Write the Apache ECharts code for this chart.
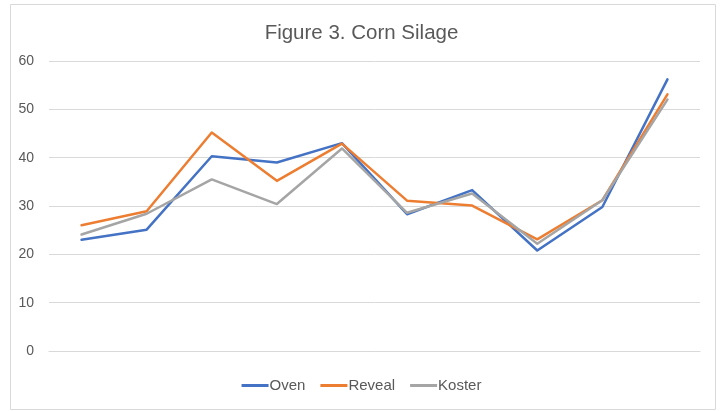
<!DOCTYPE html>
<html>
<head>
<meta charset="utf-8">
<script src="https://cdn.jsdelivr.net/npm/echarts@6/dist/echarts.min.js"></script>
<style>
  html, body { margin: 0; padding: 0; background: #fff; }
  #chart { width: 723px; height: 411px; }
</style>
</head>
<body>
<div id="chart"></div>
<script>
// samples along x (no labels in the original)
const categories = ['1', '2', '3', '4', '5', '6', '7', '8', '9', '10']
const oven = [23, 25.1, 40.3, 39, 43, 28.3, 33.3, 20.8, 29.8, 56.2]
const reveal = [26, 28.9, 45.2, 35.2, 42.9, 31.1, 30.1, 23.1, 31.2, 53.1]
const koster = [24.1, 28.4, 35.5, 30.4, 41.9, 28.6, 32.6, 22.2, 31.2, 52]

const font = '"Liberation Sans", Arial, sans-serif'
const colors = ['#4472C4', '#ED7D31', '#A5A5A5']

const chart = echarts.init(document.getElementById('chart'))

const makeLine = (name, data, color) => ({
  name,
  type: 'line',
  data,
  showSymbol: false,
  symbol: 'none',
  lineStyle: { color, width: 2.5, join: 'round', cap: 'round' },
  itemStyle: { color },
  animation: false
})

chart.setOption({
  animation: false,
  textStyle: { fontFamily: font },
  graphic: [{
    type: 'rect',
    shape: { x: 10.5, y: 4.5, width: 705, height: 405 },
    style: { fill: 'none', stroke: '#d9d9d9', lineWidth: 1 },
    silent: true
  }],
  title: {
    text: 'Figure 3. Corn Silage',
    left: 'center',
    top: 18,
    textStyle: { color: '#595959', fontSize: 20.5, fontWeight: 'normal', fontFamily: font }
  },
  legend: {
    bottom: 13,
    left: 'center',
    icon: 'rect',
    itemWidth: 27,
    itemHeight: 3,
    itemGap: 15,
    textStyle: { color: '#595959', fontSize: 15, fontFamily: font, padding: [0, 0, 0, -4] },
    data: ['Oven', 'Reveal', 'Koster']
  },
  grid: { left: 49, right: 23, top: 61, bottom: 60, containLabel: false },
  xAxis: {
    type: 'category',
    data: categories,
    boundaryGap: true,
    axisLine: { show: true, lineStyle: { color: '#d9d9d9' } },
    axisTick: { show: false },
    axisLabel: { show: false },
    splitLine: { show: false }
  },
  yAxis: {
    type: 'value',
    min: 0,
    max: 60,
    interval: 10,
    axisLine: { show: false },
    axisTick: { show: false },
    axisLabel: { color: '#595959', fontSize: 14, margin: 15, fontFamily: font },
    splitLine: { lineStyle: { color: '#d9d9d9', width: 1 } }
  },
  series: [
    makeLine('Oven', oven, colors[0]),
    makeLine('Reveal', reveal, colors[1]),
    makeLine('Koster', koster, colors[2])
  ]
})
</script>
</body>
</html>
